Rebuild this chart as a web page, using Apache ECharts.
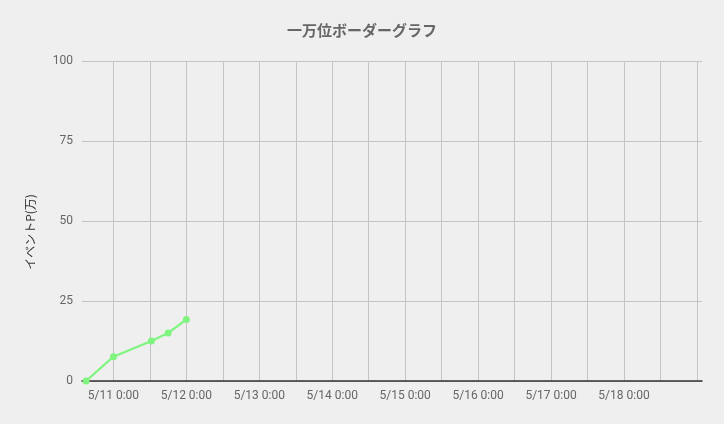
<!DOCTYPE html>
<html>
<head>
<meta charset="utf-8">
<script src="https://cdn.jsdelivr.net/npm/echarts@6/dist/echarts.min.js"></script>
<style>
  html, body { margin: 0; padding: 0; background: #efefef; }
  #chart { width: 724px; height: 424px; }
</style>
</head>
<body>
<div id="chart"></div>
<script>
// ------------------------------  データ ---------------------------
const times = ['2024-05-10T15:00:00', '2024-05-11T00:00:00', '2024-05-11T12:30:00', '2024-05-11T18:00:00', '2024-05-12T00:00:00'];
const points = [0, 7.6, 12.5, 15.0, 19.2];
const axisMin = '2024-05-10T13:40:00';
const axisMax = '2024-05-19T01:40:00';
const yTicks = [0, 25, 50, 75, 100];

(function () {
  let myChart = echarts.init(document.getElementById('chart'));
  let option = {
    backgroundColor: '#efefef',
    textStyle: { fontFamily: 'Roboto, "Noto Sans CJK JP", sans-serif' },
    title: {
      text: '一万位ボーダーグラフ',
      left: 'center',
      top: 18,
      textStyle: { fontSize: 15, fontWeight: 'bold', color: '#666', fontFamily: '"Noto Sans CJK JP", Roboto, sans-serif' }
    },
    grid: { left: 82, right: 22, top: 61, bottom: 43, containLabel: false },
    xAxis: {
      type: 'time',
      min: new Date(axisMin).getTime(),
      max: new Date(axisMax).getTime(),
      // 1日ごとのラベル + 12時間ごとの縦線
      splitNumber: 16,
      axisLine: { lineStyle: { color: '#333', width: 1.5 } },
      axisTick: { show: false },
      splitLine: { show: true, showMinLine: false, showMaxLine: false, lineStyle: { color: '#c4c4c4', width: 1 } },
      axisLabel: {
        color: '#666',
        fontSize: 12,
        margin: 9,
        showMinLabel: false,
        showMaxLabel: false,
        hideOverlap: false,
        formatter: function (val) {
          let d = new Date(val);
          if (d.getHours() !== 0 || d.getMinutes() !== 0) return '';
          if (d.getDate() === 19) return '';
          return (d.getMonth() + 1) + '/' + d.getDate() + ' 0:00';
        }
      }
    },
    yAxis: {
      type: 'value',
      min: yTicks[0],
      max: yTicks[yTicks.length - 1],
      interval: 25,
      name: 'イベントP(万)',
      nameLocation: 'middle',
      nameGap: 46,
      nameTextStyle: { color: '#333', fontSize: 12, fontFamily: '"Noto Sans CJK JP", sans-serif', padding: [0, 0, 0, -22] },
      axisLine: { show: false },
      axisTick: { show: false },
      splitLine: { lineStyle: { color: '#c4c4c4', width: 1 } },
      axisLabel: { color: '#666', fontSize: 12, margin: 9 }
    },
    series: [
      {
        type: 'line',
        data: times.map(function (t, i) { return [new Date(t).getTime(), points[i]]; }),
        symbol: 'circle',
        symbolSize: 7,
        lineStyle: { color: '#7ff57f', width: 2.2 },
        itemStyle: { color: '#7ff57f' },
        z: 5
      }
    ]
  };
  myChart.setOption(option);
})();
</script>
</body>
</html>
